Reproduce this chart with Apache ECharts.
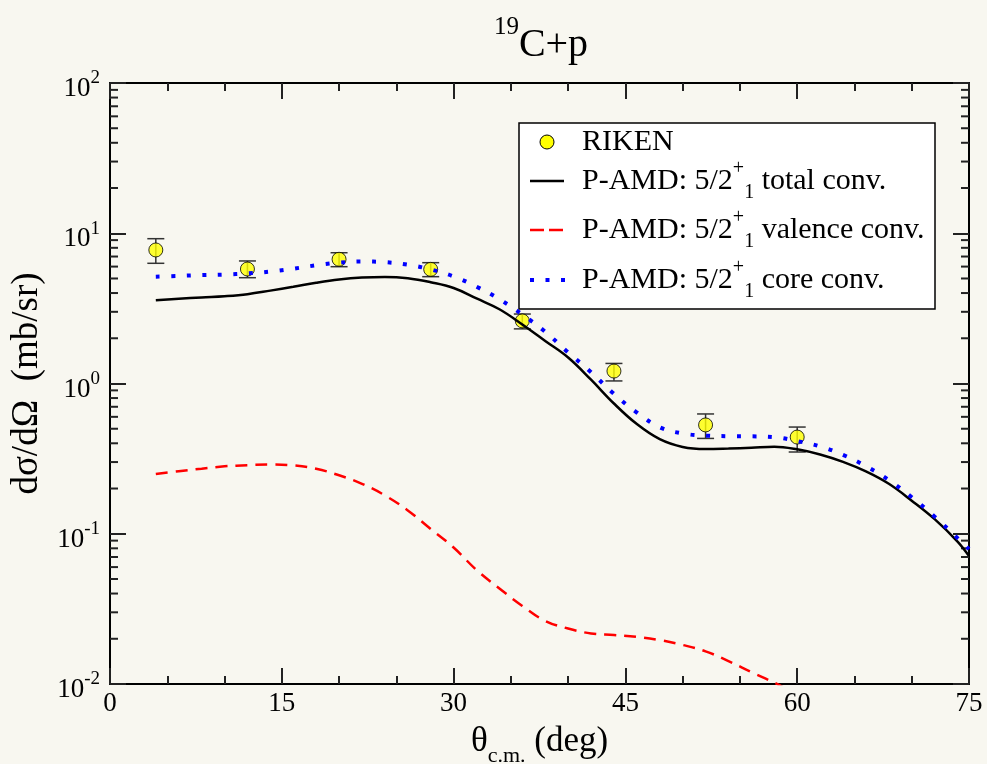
<!DOCTYPE html>
<html>
<head>
<meta charset="utf-8">
<script src="https://cdn.jsdelivr.net/npm/echarts@6/dist/echarts.min.js"></script>
<style>
  html, body { margin: 0; padding: 0; background: #f8f7f0; }
  #chart { width: 987px; height: 764px; }
</style>
</head>
<body>
<div id="chart"></div>
<script>
// RIKEN measurement: angle (deg), cross section and error limits (mb/sr)
const rikenAngle = [4, 12, 20, 28, 36, 44, 52, 60];
const rikenValue = [7.74, 5.78, 6.71, 5.75, 2.61, 1.21, 0.53, 0.44];
const rikenUpper = [9.2, 6.54, 7.42, 6.37, 2.90, 1.36, 0.627, 0.513];
const rikenLower = [6.31, 5.06, 5.99, 5.14, 2.31, 1.04, 0.431, 0.35];

// P-AMD calculations for the 5/2+_1 state
const curveAngle = [4, 6, 8, 10, 12, 14, 16, 18, 20, 22, 24, 26, 28, 30, 32, 34, 36, 38, 40,
                    42, 44, 46, 48, 50, 52, 54, 56, 58, 60, 62, 64, 66, 68, 70, 72, 74, 75];
const totalConv = [3.58, 3.66, 3.74, 3.81, 3.93, 4.15, 4.40, 4.68, 4.92, 5.07, 5.12, 5.02, 4.72,
                   4.32, 3.68, 3.12, 2.47, 1.92, 1.49, 1.06, 0.736, 0.537, 0.426, 0.378, 0.366,
                   0.369, 0.374, 0.38, 0.365, 0.337, 0.301, 0.26, 0.215, 0.166, 0.125, 0.0887, 0.0711];
const coreConv = [5.14, 5.2, 5.27, 5.31, 5.40, 5.56, 5.81, 6.12, 6.37, 6.49, 6.42, 6.18, 5.74,
                  5.16, 4.41, 3.64, 2.88, 2.21, 1.61, 1.19, 0.853, 0.641, 0.511, 0.465, 0.45,
                  0.446, 0.445, 0.44, 0.414, 0.381, 0.335, 0.282, 0.228, 0.175, 0.130, 0.0935, 0.079];
const valenceAngle = [4, 6, 8, 10, 12, 14, 16, 18, 20, 22, 24, 26, 28, 30, 32, 34, 36, 38, 40,
                      42, 44, 46, 48, 50, 52, 54, 56, 58, 60];
const valenceConv = [0.25, 0.261, 0.271, 0.281, 0.286, 0.289, 0.285, 0.271, 0.245, 0.215, 0.180,
                     0.143, 0.1076, 0.081, 0.0574, 0.0432, 0.0331, 0.0263, 0.0234, 0.0217, 0.0212,
                     0.0206, 0.0196, 0.0182, 0.0165, 0.0142, 0.012, 0.0102, 0.0085];

// Axis settings
const xMin = 0, xMax = 75, xStep = 15;
const yMin = 0.01, yMax = 100;
const yDecades = [-2, -1, 0, 1];
const minorFactors = [2, 3, 4, 5, 6, 7, 8, 9];

const serif = '"Liberation Serif", "DejaVu Serif", serif';
const ink = '#000';

const minorLogTicks = [];
yDecades.forEach(e => minorFactors.forEach(k => minorLogTicks.push([0, k * Math.pow(10, e)])));

const zip = (xs, ys) => xs.map((x, i) => [x, ys[i]]);

const chart = echarts.init(document.getElementById('chart'), null, { renderer: 'canvas' });

const axisLineStyle = { color: ink, width: 2 };
const tickStyle = { color: '#222', width: 2 };

const legendRich = {
  sup: { fontFamily: serif, fontSize: 20, fill: ink, lineHeight: 27, verticalAlign: 'top' },
  sub: { fontFamily: serif, fontSize: 20, fill: ink, lineHeight: 16, verticalAlign: 'bottom' }
};
const legendText = (y, text) => ({
  type: 'text', x: 582, y: y,
  style: { text: text, fontFamily: serif, fontSize: 30, fill: ink,
           verticalAlign: 'middle', lineHeight: 44, rich: legendRich }
});

const option = {
  backgroundColor: '#f8f7f0',
  animation: false,
  grid: { left: 110, right: 18, top: 83, bottom: 80, containLabel: false, outerBoundsMode: 'none' },
  xAxis: [
    {
      type: 'value', min: xMin, max: xMax, interval: xStep, position: 'bottom',
      axisLine: { show: true, onZero: false, lineStyle: axisLineStyle },
      axisTick: { show: true, inside: true, length: 16, lineStyle: tickStyle },
      minorTick: { show: true, splitNumber: 3, length: 8, lineStyle: tickStyle },
      splitLine: { show: false },
      axisLabel: { fontFamily: serif, fontSize: 27, color: ink, margin: 6 },
      name: 'θ{sub|c.m.} (deg)', nameLocation: 'middle', nameGap: 33, nameMoveOverlap: false,
      nameTextStyle: {
        fontFamily: serif, fontSize: 35, color: ink, lineHeight: 50,
        rich: { sub: { fontFamily: serif, fontSize: 22, color: ink, lineHeight: 10, verticalAlign: 'bottom' } }
      }
    },
    {
      type: 'value', min: xMin, max: xMax, interval: xStep, position: 'top',
      axisLine: { show: true, onZero: false, lineStyle: axisLineStyle },
      axisTick: { show: true, inside: true, length: 16, lineStyle: tickStyle },
      minorTick: { show: true, splitNumber: 3, length: 8, lineStyle: tickStyle },
      splitLine: { show: false },
      axisLabel: { show: false }
    }
  ],
  yAxis: [
    {
      type: 'log', logBase: 10, min: yMin, max: yMax, position: 'left',
      axisLine: { show: true, onZero: false, lineStyle: axisLineStyle },
      axisTick: { show: true, inside: true, length: 16, lineStyle: tickStyle },
      minorTick: { show: false },
      splitLine: { show: false },
      axisLabel: {
        margin: 10, padding: [12, 0, 0, 0],
        formatter: v => '{b|10}{s|' + Math.round(Math.log10(v)) + '}',
        rich: {
          b: { fontFamily: serif, fontSize: 27, color: ink, lineHeight: 40 },
          s: { fontFamily: serif, fontSize: 19, color: ink, lineHeight: 13, verticalAlign: 'top' }
        }
      },
      name: 'dσ/dΩ  (mb/sr)', nameLocation: 'middle', nameGap: 64, nameRotate: 90, nameMoveOverlap: false,
      nameTextStyle: { fontFamily: serif, fontSize: 37, color: ink }
    },
    {
      type: 'log', logBase: 10, min: yMin, max: yMax, position: 'right',
      axisLine: { show: true, onZero: false, lineStyle: axisLineStyle },
      axisTick: { show: true, inside: true, length: 16, lineStyle: tickStyle },
      minorTick: { show: false },
      splitLine: { show: false },
      axisLabel: { show: false }
    }
  ],
  graphic: [
    {
      type: 'text', x: 541, y: 45, z: 100,
      style: {
        text: '{sup|19}C+p', align: 'center', verticalAlign: 'middle',
        fontFamily: serif, fontSize: 40, fill: ink, lineHeight: 60,
        rich: { sup: { fontFamily: serif, fontSize: 25, fill: ink, lineHeight: 14, verticalAlign: 'top' } }
      }
    },
    {
      type: 'group', z: 100,
      children: [
        { type: 'rect', shape: { x: 519, y: 123, width: 416, height: 186 },
          style: { fill: '#ffffff', stroke: ink, lineWidth: 1.5 } },
        { type: 'circle', shape: { cx: 547, cy: 142, r: 7 },
          style: { fill: '#ffff00', stroke: ink, lineWidth: 1 } },
        { type: 'line', shape: { x1: 530, y1: 181, x2: 564, y2: 181 },
          style: { stroke: ink, lineWidth: 2.5 } },
        { type: 'line', shape: { x1: 530, y1: 230, x2: 564, y2: 230 },
          style: { stroke: '#ff0000', lineWidth: 2.5, lineDash: [14, 5] } },
        { type: 'line', shape: { x1: 530, y1: 280, x2: 566, y2: 280 },
          style: { stroke: '#0000ff', lineWidth: 4, lineDash: [4, 11.5] } },
        { type: 'text', x: 582, y: 142,
          style: { text: 'RIKEN', fontFamily: serif, fontSize: 30, fill: ink, verticalAlign: 'middle' } },
        legendText(181, 'P-AMD: 5/2{sup|+}{sub|1} total conv.'),
        legendText(230, 'P-AMD: 5/2{sup|+}{sub|1} valence conv.'),
        legendText(280, 'P-AMD: 5/2{sup|+}{sub|1} core conv.')
      ]
    }
  ],
  series: [
    {
      // minor log ticks on the left and right frame
      type: 'custom', name: 'minorTicks', silent: true,
      xAxisIndex: 0, yAxisIndex: 0,
      data: minorLogTicks, encode: { x: 0, y: 1 },
      renderItem: (params, api) => {
        const v = api.value(1);
        const l = api.coord([xMin, v]);
        const r = api.coord([xMax, v]);
        const st = { stroke: '#222', lineWidth: 2 };
        return { type: 'group', children: [
          { type: 'line', shape: { x1: l[0], y1: l[1], x2: l[0] + 8, y2: l[1] }, style: st },
          { type: 'line', shape: { x1: r[0] - 8, y1: r[1], x2: r[0], y2: r[1] }, style: st }
        ] };
      },
      z: 1
    },
    {
      type: 'custom', name: 'RIKEN errors', silent: true,
      xAxisIndex: 0, yAxisIndex: 0,
      data: rikenAngle.map((a, i) => [a, rikenLower[i], rikenUpper[i]]),
      encode: { x: 0, y: [1, 2] },
      renderItem: (params, api) => {
        const a = api.value(0);
        const lo = api.coord([a, api.value(1)]);
        const hi = api.coord([a, api.value(2)]);
        const w = 8.5;
        const st = { stroke: '#333', lineWidth: 1.5 };
        return { type: 'group', children: [
          { type: 'line', shape: { x1: lo[0], y1: lo[1], x2: hi[0], y2: hi[1] }, style: st },
          { type: 'line', shape: { x1: lo[0] - w, y1: lo[1], x2: lo[0] + w, y2: lo[1] }, style: st },
          { type: 'line', shape: { x1: hi[0] - w, y1: hi[1], x2: hi[0] + w, y2: hi[1] }, style: st }
        ] };
      },
      z: 2
    },
    {
      type: 'scatter', name: 'RIKEN', xAxisIndex: 0, yAxisIndex: 0,
      data: zip(rikenAngle, rikenValue),
      symbol: 'circle', symbolSize: 14,
      itemStyle: { color: '#ffff00', borderColor: ink, borderWidth: 1 },
      z: 3
    },
    {
      type: 'line', name: 'P-AMD total conv.', xAxisIndex: 0, yAxisIndex: 0,
      data: zip(curveAngle, totalConv), showSymbol: false, smooth: 0.4, clip: true,
      lineStyle: { color: ink, width: 2.5 }, z: 4
    },
    {
      type: 'line', name: 'P-AMD valence conv.', xAxisIndex: 0, yAxisIndex: 0,
      data: zip(valenceAngle, valenceConv), showSymbol: false, smooth: 0.4, clip: true,
      lineStyle: { color: '#ff0000', width: 2.5, type: [12, 8] }, z: 4
    },
    {
      type: 'line', name: 'P-AMD core conv.', xAxisIndex: 0, yAxisIndex: 0,
      data: zip(curveAngle, coreConv), showSymbol: false, smooth: 0.4, clip: true,
      lineStyle: { color: '#0000ff', width: 4, type: [4, 11.5], cap: 'butt' }, z: 5
    }
  ]
};

chart.setOption(option);
</script>
</body>
</html>
